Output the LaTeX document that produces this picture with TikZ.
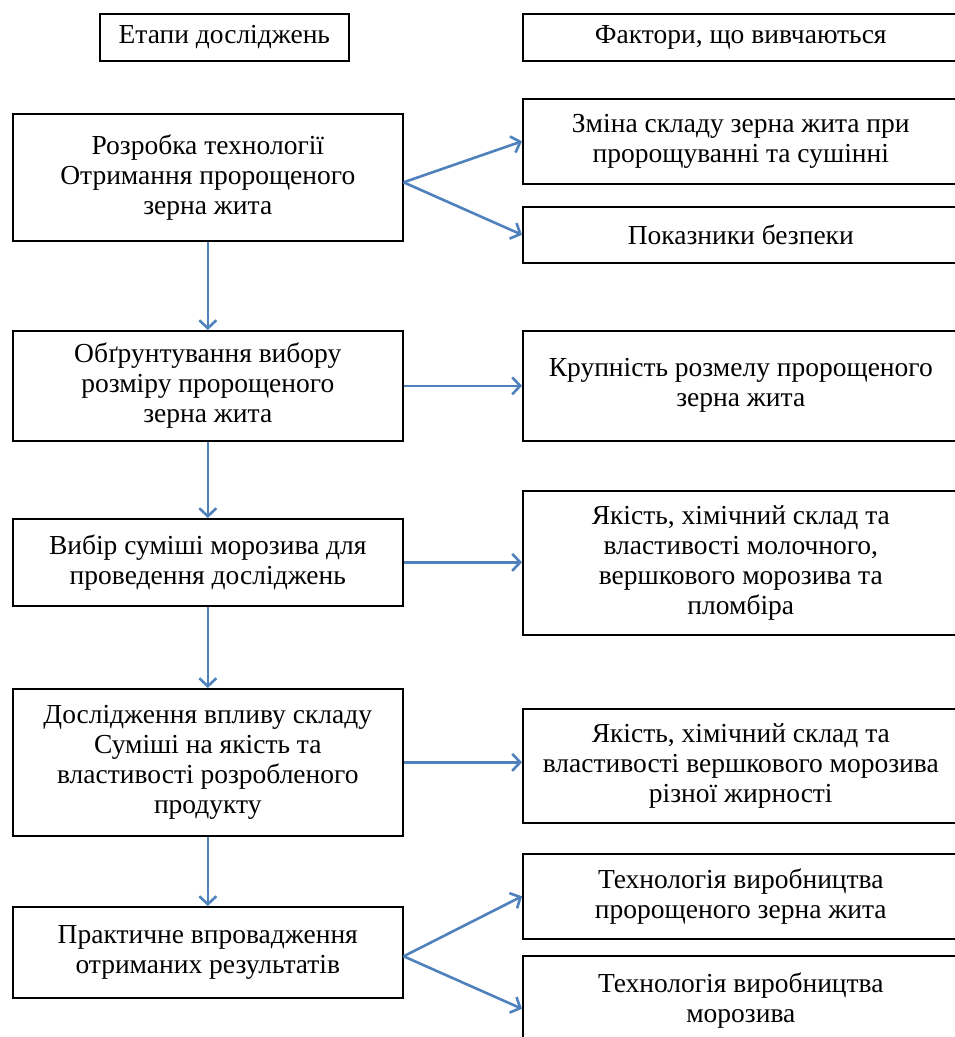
\documentclass[tikz,border=0pt]{standalone}
\usepackage{fontspec}
\setmainfont{Liberation Serif}
\usetikzlibrary{arrows.meta}

\begin{document}
\begin{tikzpicture}[x=1pt,y=-1pt]
% Define styles for nodes and edges
\tikzstyle{box} = [draw, line width=1.6pt, anchor=north west, inner sep=0pt, align=center, font=\fontsize{27.5}{30}\selectfont]
\tikzstyle{stage} = [box, minimum width=390pt]
\tikzstyle{factor} = [box, minimum width=436pt]
\tikzstyle{arrow} = [line width=2.6pt, draw={rgb,255:red,79;green,129;blue,189}, -{Straight Barb[length=8pt,width=17pt]}]

\useasboundingbox (0,0) rectangle (954,1037);

% Headers
\node[box, minimum width=249pt, minimum height=47pt] (head1) at (99,13) {Етапи досліджень};
\node[factor, minimum height=47pt] (head2) at (522,13) {Фактори, що вивчаються};

% Nodes
\node[stage, minimum height=127pt] (stage1) at (12,113) {Розробка технології\\Отримання пророщеного\\зерна жита};
\node[factor, minimum height=85pt] (factor1a) at (522,98) {Зміна складу зерна жита при\\пророщуванні та сушінні};
\node[factor, minimum height=56pt] (factor1b) at (522,206) {Показники безпеки};

\node[stage, minimum height=110pt] (stage2) at (12,330) {Обґрунтування вибору\\розміру пророщеного\\зерна жита};
\node[factor, minimum height=110pt] (factor2) at (522,330) {Крупність розмелу пророщеного\\зерна жита};

\node[stage, minimum height=87pt] (stage3) at (12,518) {Вибір суміші морозива для\\проведення досліджень};
\node[factor, minimum height=144pt] (factor3) at (522,490) {Якість, хімічний склад та\\властивості молочного,\\вершкового морозива та\\пломбіра};

\node[stage, minimum height=147pt] (stage4) at (12,688) {Дослідження впливу складу\\Суміші на якість та\\властивості розробленого\\продукту};
\node[factor, minimum height=114pt] (factor4) at (522,708) {Якість, хімічний склад та\\властивості вершкового морозива\\різної жирності};

\node[stage, minimum height=91pt] (stage5) at (12,906) {Практичне впровадження\\отриманих результатів};
\node[factor, minimum height=85pt] (factor5a) at (522,853) {Технологія виробництва\\пророщеного зерна жита};
\node[factor, minimum height=90pt] (factor5b) at (522,955) {Технологія виробництва\\морозива};

% Edges
\draw[arrow] (stage1) -- (stage2);
\draw[arrow] (stage2) -- (stage3);
\draw[arrow] (stage3) -- (stage4);
\draw[arrow] (stage4) -- (stage5);

\draw[arrow] ([yshift=-5pt]stage1.east) -- (factor1a.west);
\draw[arrow] ([yshift=-5pt]stage1.east) -- (factor1b.west);
\draw[arrow] (stage2.east) -- (factor2.west);
\draw[arrow] (stage3.east) -- (stage3.east -| factor3.west);
\draw[arrow] (stage4.east) -- (stage4.east -| factor4.west);
\draw[arrow] ([yshift=-4pt]stage5.east) -- (factor5a.west);
\draw[arrow] ([yshift=-4pt]stage5.east) -- ([yshift=-8pt]factor5b.west);
\end{tikzpicture}
\end{document}
